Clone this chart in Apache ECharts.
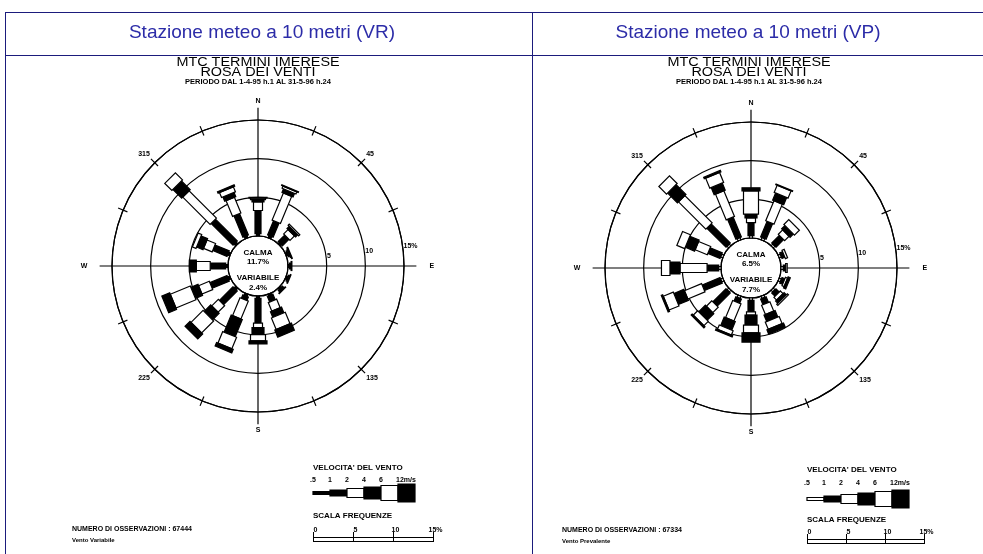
<!DOCTYPE html>
<html><head><meta charset="utf-8">
<script src="https://cdn.jsdelivr.net/npm/echarts@6/dist/echarts.min.js"></script>
<style>html,body{margin:0;padding:0;background:#fff}#c{width:983px;height:554px}</style>
</head><body><div id="c"></div>
<script>
// ---- data ----
const directions = ['N','NNE','NE','ENE','E','ESE','SE','SSE','S','SSW','SW','WSW','W','WNW','NW','NNW'];
const dirAngles = [0,22.5,45,67.5,90,112.5,135,157.5,180,202.5,225,247.5,270,292.5,315,337.5];
const speedLabels = ['.5','1','2','4','6','12m/s'];
const ringTicks = [5,10,15];
const ringLabels = ['5','10','15%'];
const scaleTicks = [0,5,10,15];
const scaleLabels = ['0','5','10','15%'];
const cardinalLabels = ['N','E','S','W'];
const cardinalAngles = [0,90,180,270];
const diagLabels = {45:'45',135:'135',225:'225',315:'315'};

// VR (vento variabile) frequency % by speed class, per direction
const vr_05_1 = [0.3,0.3,0.2,0.2,0.2,0.2,0.2,0.2,0.3,0.3,0.3,0.3,0.3,0.3,0.3,0.3];
const vr_1_2  = [3.0,2.0,1.2,0.2,0.2,0.2,0.3,0.8,3.2,0.5,2.5,2.4,2.0,2.0,4.0,3.0];
const vr_2_4  = [1.1,3.8,0.8,0.1,0.1,0.1,0.1,1.2,0.6,2.5,1.2,1.5,1.8,1.2,5.0,2.2];
const vr_4_6  = [0.3,0.5,0.4,0.1,0,0,0,0.8,0.9,2.4,1.2,1.0,0.9,0.9,1.6,0.6];
const vr_6_12 = [0.2,0.3,0.2,0,0,0,0,1.6,0.8,1.6,2.2,2.8,0,0.5,1.3,0.7];
const vr_12   = [0.1,0.1,0,0,0,0,0,1.0,0.4,0.5,0.9,1.1,0,0,0,0.2];
// VP (vento prevalente)
const vp_05_1 = [0.3,0.3,0.3,0.3,0.3,0.3,0.3,0.3,0.3,0.3,0.3,0.3,0.3,0.3,0.3,0.3];
const vp_1_2  = [1.7,2.2,1.4,0.4,0.3,0.4,0.6,0.8,1.5,0.6,2.4,2.5,1.5,1.7,3.5,2.8];
const vp_2_4  = [0.6,2.8,0.8,0.3,0.2,0.3,0.5,1.3,0.4,2.4,1.0,2.4,3.5,1.7,5.0,3.6];
const vp_4_6  = [0.5,1.0,0.6,0,0,0.3,0.4,0.9,1.3,1.2,1.2,1.4,1.3,1.3,1.8,1.0];
const vp_6_12 = [3.0,1.0,0.9,0,0,0,0.2,1.0,1.0,0.6,0.8,1.4,1.1,1.1,1.4,1.4];
const vp_12   = [0.4,0.1,0,0,0,0,0,0.6,1.2,0.2,0.2,0.2,0,0,0,0.2];

const calmaVR = '11.7%', variabileVR = '2.4%';
const calmaVP = '6.5%',  variabileVP = '7.7%';

// ---- styles ----
const classWidth = [3,6,9,12,15,18];
const classFillVR = ['#000','#000','#fff','#000','#fff','#000'];
const classFillVP = ['#fff','#000','#fff','#000','#fff','#000'];
const NAVY = '#1b1b7c';
const smallFont = 'bold 7px "Liberation Sans", Arial, sans-serif';

function buildStack(classes){
  const rows = [];
  for (let d = 0; d < dirAngles.length; d++){
    let s = 0;
    for (let k = 0; k < classes.length; k++){
      const v = classes[k][d];
      if (v > 0){ rows.push([dirAngles[d], k, s, s + v]); s += v; }
    }
  }
  return rows;
}
const vrRows = buildStack([vr_05_1,vr_1_2,vr_2_4,vr_4_6,vr_6_12,vr_12]);
const vpRows = buildStack([vp_05_1,vp_1_2,vp_2_4,vp_4_6,vp_6_12,vp_12]);

function barRenderer(fills){
  return function(params, api){
    const ang = api.value(0), k = api.value(1), s = api.value(2), e = api.value(3);
    const p0 = api.coord([s, ang]), p1 = api.coord([e, ang]);
    const dx = p1[0]-p0[0], dy = p1[1]-p0[1];
    const len = Math.sqrt(dx*dx+dy*dy);
    if (len < 0.01) return null;
    const nx = -dy/len, ny = dx/len, h = classWidth[k]/2;
    const pts = [[p0[0]+nx*h,p0[1]+ny*h],[p1[0]+nx*h,p1[1]+ny*h],[p1[0]-nx*h,p1[1]-ny*h],[p0[0]-nx*h,p0[1]-ny*h]];
    return {type:'polygon', shape:{points:pts}, style:{fill:fills[k], stroke:'#000', lineWidth:1.2}};
  };
}

function frameRenderer(calma, variabile){
  return function(params, api){
    const cs = params.coordSys;
    const cx = cs.cx, cy = cs.cy;
    const children = [];
    cardinalAngles.forEach((a,i)=>{
      const p0 = api.coord([0,a]), p1 = api.coord([16.6,a]);
      children.push({type:'line', shape:{x1:p0[0],y1:p0[1],x2:p1[0],y2:p1[1]}, style:{stroke:'#000',lineWidth:1.2}});
      const pl = api.coord([(a%180===0)?17.4:18.6, a]);
      children.push({type:'text', x:pl[0], y:pl[1], style:{text:cardinalLabels[i], font:smallFont, fill:'#000', textAlign:'center', textVerticalAlign:'middle'}});
    });
    dirAngles.forEach(a=>{
      if (a % 90 === 0) return;
      const p0 = api.coord([14.4,a]), p1 = api.coord([15.7,a]);
      children.push({type:'line', shape:{x1:p0[0],y1:p0[1],x2:p1[0],y2:p1[1]}, style:{stroke:'#000',lineWidth:1.2}});
    });
    ringTicks.forEach((v,i)=>{
      const p = api.coord([v, 82]);
      children.push({type:'text', x:p[0]+1, y:p[1], style:{text:ringLabels[i], font:smallFont, fill:'#000', textAlign:'left', textVerticalAlign:'middle'}});
    });
    const t = [['CALMA',-13],[calma,-4],['VARIABILE',12],[variabile,22]];
    t.forEach(r=>children.push({type:'text', x:cx, y:cy+r[1], style:{text:r[0], font:'bold 8px "Liberation Sans", Arial, sans-serif', fill:'#000', textAlign:'center', textVerticalAlign:'middle'}}));
    return {type:'group', children};
  };
}

function angleAxis(idx){
  return {polarIndex:idx, type:'value', min:0, max:360, interval:45, startAngle:90, clockwise:true,
    axisLine:{lineStyle:{color:'#000', width:1.2}}, axisTick:{show:false}, splitLine:{show:false},
    axisLabel:{margin:7, color:'#000', fontSize:7, fontWeight:'bold', fontFamily:'Liberation Sans', formatter:v=>diagLabels[v]||''}};
}
function radiusAxis(idx){
  return {polarIndex:idx, type:'value', min:0, max:15, interval:5,
    axisLine:{show:false}, axisTick:{show:false}, axisLabel:{show:false},
    splitLine:{show:true, lineStyle:{color:'#000', width:1.2}}};
}

const graphics = [];
function gl(x1,y1,x2,y2,c,w){graphics.push({type:'line', shape:{x1,y1,x2,y2}, style:{stroke:c||'#000', lineWidth:w||1}, silent:true});}
function gt(x,y,text,font,align,fill,sx){graphics.push({type:'text', x, y, scaleX:sx||1, style:{text, font, fill:fill||'#000', textAlign:align||'left', textVerticalAlign:'middle'}, silent:true});}

gl(5,12.5,983,12.5,NAVY); gl(5.5,12,5.5,554,NAVY); gl(5,55.5,983,55.5,NAVY); gl(532.5,12,532.5,554,NAVY);
gt(262,33,'Stazione meteo a 10 metri (VR)','19px "Liberation Sans", Arial, sans-serif','center','#2c2ca8');
gt(748,33,'Stazione meteo a 10 metri (VP)','19px "Liberation Sans", Arial, sans-serif','center','#2c2ca8');

function panelText(cx){
  gt(cx,63,'MTC TERMINI IMERESE','12px "Liberation Sans", Arial, sans-serif','center','#000',1.2);
  gt(cx,73,'ROSA DEI VENTI','12px "Liberation Sans", Arial, sans-serif','center','#000',1.2);
  gt(cx,82,'PERIODO DAL 1-4-95 h.1 AL 31-5-96 h.24','bold 7.5px "Liberation Sans", Arial, sans-serif','center');
}
panelText(258); panelText(749);

function speedLegend(x0, yTitle, yLab, yBar, fills){
  gt(x0, yTitle, "VELOCITA' DEL VENTO", 'bold 8px "Liberation Sans", Arial, sans-serif','left');
  const seg = 17;
  for (let k=0;k<6;k++){
    const h = classWidth[k];
    graphics.push({type:'rect', shape:{x:x0+k*seg, y:yBar-h/2, width:seg, height:h}, style:{fill:fills[k], stroke:'#000', lineWidth:1.2}, silent:true});
    gt(k<5 ? x0+k*seg : x0+k*seg+8, yLab, speedLabels[k], smallFont, 'center');
  }
}
function freqScale(x0, yTitle, yBar, step){
  gt(x0, yTitle, 'SCALA FREQUENZE', 'bold 8px "Liberation Sans", Arial, sans-serif','left');
  const x1 = x0 + step*3;
  gl(x0,yBar+0.5,x1,yBar+0.5); gl(x0,yBar+4.5,x1,yBar+4.5);
  scaleTicks.forEach((v,i)=>{
    const x = x0 + step*v/5 + 0.5;
    gl(x,yBar-5,x,yBar+5);
    gt(x+2, yBar-7, scaleLabels[i], smallFont, 'center');
  });
}
speedLegend(313, 468, 480, 493, classFillVR);
freqScale(313, 516, 537, 40);
gt(72, 529, 'NUMERO DI OSSERVAZIONI : 67444', smallFont, 'left');
gt(72, 540, 'Vento Variabile', 'bold 6px "Liberation Sans", Arial, sans-serif', 'left');

speedLegend(807, 470, 483, 499, classFillVP);
freqScale(807, 520, 539, 39);
gt(562, 530, 'NUMERO DI OSSERVAZIONI : 67334', smallFont, 'left');
gt(562, 541, 'Vento Prevalente', 'bold 6px "Liberation Sans", Arial, sans-serif', 'left');

const chart = echarts.init(document.getElementById('c'), null, {renderer:'canvas'});
chart.setOption({
  animation:false,
  backgroundColor:'#fff',
  polar:[{center:[258,266], radius:[30,146]},{center:[751,268], radius:[30,146]}],
  angleAxis:[angleAxis(0), angleAxis(1)],
  radiusAxis:[radiusAxis(0), radiusAxis(1)],
  graphic: graphics,
  series:[
    {type:'custom', name:'frameVR', coordinateSystem:'polar', polarIndex:0, data:[[0,0]], encode:{radius:0, angle:1}, renderItem:frameRenderer(calmaVR, variabileVR), silent:true, z:1},
    {type:'custom', name:'frameVP', coordinateSystem:'polar', polarIndex:1, data:[[0,0]], encode:{radius:0, angle:1}, renderItem:frameRenderer(calmaVP, variabileVP), silent:true, z:1},
    {type:'custom', name:'VR', coordinateSystem:'polar', polarIndex:0, data:vrRows, encode:{angle:0, radius:3}, renderItem:barRenderer(classFillVR), z:3},
    {type:'custom', name:'VP', coordinateSystem:'polar', polarIndex:1, data:vpRows, encode:{angle:0, radius:3}, renderItem:barRenderer(classFillVP), z:3}
  ]
});
</script></body></html>
